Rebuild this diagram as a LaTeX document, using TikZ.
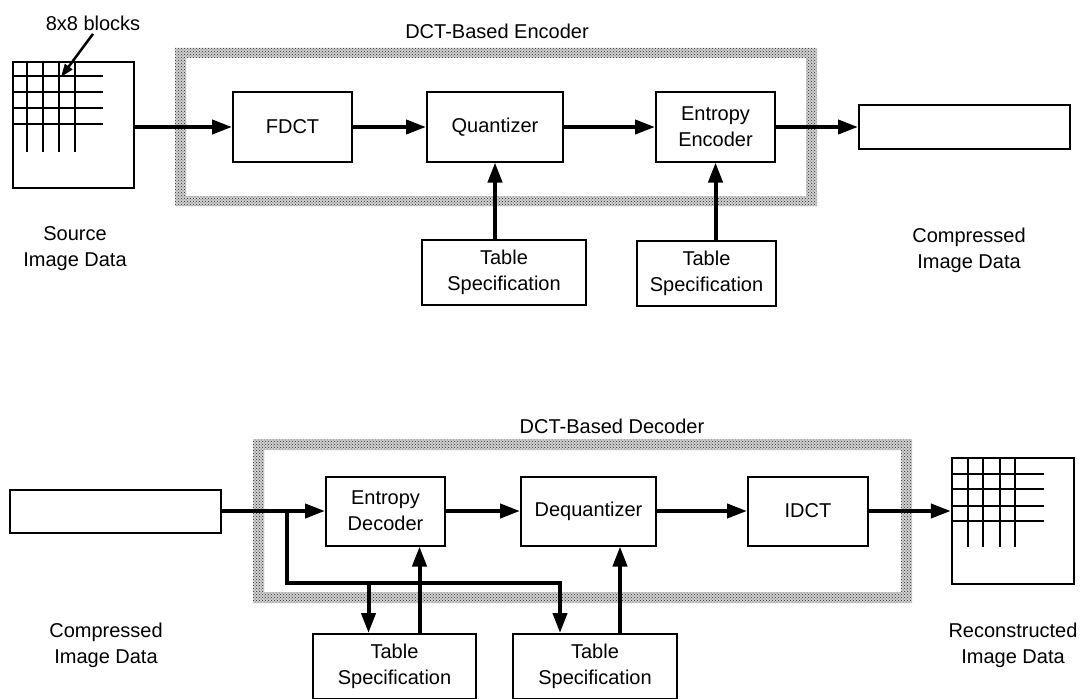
\documentclass[tikz,border=0pt]{standalone}
\usepackage{fontspec}
\setmainfont{Liberation Sans}
\usetikzlibrary{arrows.meta,positioning,patterns}

\begin{document}
\begin{tikzpicture}[x=1pt, y=-1pt,
    every node/.style={font=\fontsize{20}{26}\selectfont},
    box/.style={rectangle, draw, line width=2pt, minimum width=119pt, minimum height=69pt,
                align=center, inner sep=0pt},
    databox/.style={rectangle, draw, line width=2pt, minimum width=211pt, minimum height=44pt},
    imgbox/.style={rectangle, draw, line width=2.4pt, minimum width=121pt, minimum height=126pt},
    lbl/.style={align=center},
    arr/.style={-{Triangle[length=20pt,width=14pt]}, line width=4pt},
    grid/.style={line width=2pt},
    frame/.style={fill=black!18, even odd rule,
                  postaction={pattern=crosshatch dots, pattern color=black!85}}
]
\useasboundingbox (0,0) rectangle (1083,698);

% encoder
\fill[frame] (175,48) rectangle (817,206) (186,58) rectangle (806,196);
\node (enclbl) at (497,31) {DCT-Based Encoder};
\node[imgbox] (src) at (73.5,125) {};
\node[box] (fdct) at (292.5,127) {FDCT};
\node[box, minimum width=136pt] (quant) at (495,127) {Quantizer};
\node[box] (enc) at (715.5,127) {Entropy\\Encoder};
\node[databox] (out) at (964.5,127) {};
\node[box, minimum width=164pt, minimum height=65pt] (tab1) at (504,272.5) {Table\\Specification};
\node[box, minimum width=139pt, minimum height=65pt] (tab2) at (706.5,273.5) {Table\\Specification};
\node[lbl] (srclbl) at (75,249) {Source\\Image Data};
\node[lbl] (outlbl) at (969,250) {Compressed\\Image Data};
\node (blklbl) at (93,23) {8x8 blocks};
\coordinate (blk) at (61,77);

\foreach \d in {15,31,47,63} {
    \draw[grid] ([xshift=\d pt]src.north west) -- ++(0,91);
    \draw[grid] ([yshift=-\d pt]src.north west) -- ++(91,0);
}
\draw[-{Triangle[length=13pt,width=9pt]}, line width=2.5pt] (blklbl.south) -- (blk);

\draw[arr] (fdct.west -| src.east) -- (fdct.west);
\draw[arr] (fdct) -- (quant);
\draw[arr] (quant) -- (enc);
\draw[arr] (enc) -- (out);
\draw[arr] (tab1.north -| quant.south) -- (quant.south);
\draw[arr] (tab2.north -| enc.south) -- (enc.south);

% decoder
\fill[frame] (253,439) rectangle (912,603) (264,450) rectangle (901,592);
\node (declbl) at (612,426) {DCT-Based Decoder};
\node[databox, minimum height=43pt] (in) at (115.5,511) {};
\node[box] (edec) at (385.5,511) {Entropy\\Decoder};
\node[box, minimum width=135pt] (deq) at (588.5,511) {Dequantizer};
\node[box, minimum width=120pt] (idct) at (808,511) {IDCT};
\node[imgbox, minimum width=122pt] (rec) at (1013,521) {};
\node[box, minimum width=163pt, minimum height=65pt] (dtab1) at (394.5,666.5) {Table\\Specification};
\node[box, minimum width=164pt, minimum height=65pt] (dtab2) at (595,666.5) {Table\\Specification};
\node[lbl] (inlbl) at (106,645) {Compressed\\Image Data};
\node[lbl] (reclbl) at (1013,645) {Reconstructed\\Image Data};
\coordinate (split) at (287,511);
\coordinate (bus) at (287,583);

\foreach \d in {17,32,49,64} {
    \draw[grid] ([xshift=\d pt]rec.north west) -- ++(0,90);
    \draw[grid] ([yshift=-\d pt]rec.north west) -- ++(93,0);
}

\draw[arr] (in) -- (edec);
\draw[arr] (edec) -- (deq);
\draw[arr] (deq) -- (idct);
\draw[arr] (idct.east) -- (idct.east -| rec.west);
\draw[arr] (split) |- ([xshift=-35pt]dtab2.north |- bus) -- ([xshift=-35pt]dtab2.north);
\draw[arr] ([xshift=-26pt]dtab1.north |- bus) -- ([xshift=-26pt]dtab1.north);
\draw[arr] ([xshift=25pt]dtab1.north) -- ([xshift=25pt]dtab1.north |- edec.south);
\draw[arr] ([xshift=25pt]dtab2.north) -- ([xshift=25pt]dtab2.north |- deq.south);
\end{tikzpicture}
\end{document}
